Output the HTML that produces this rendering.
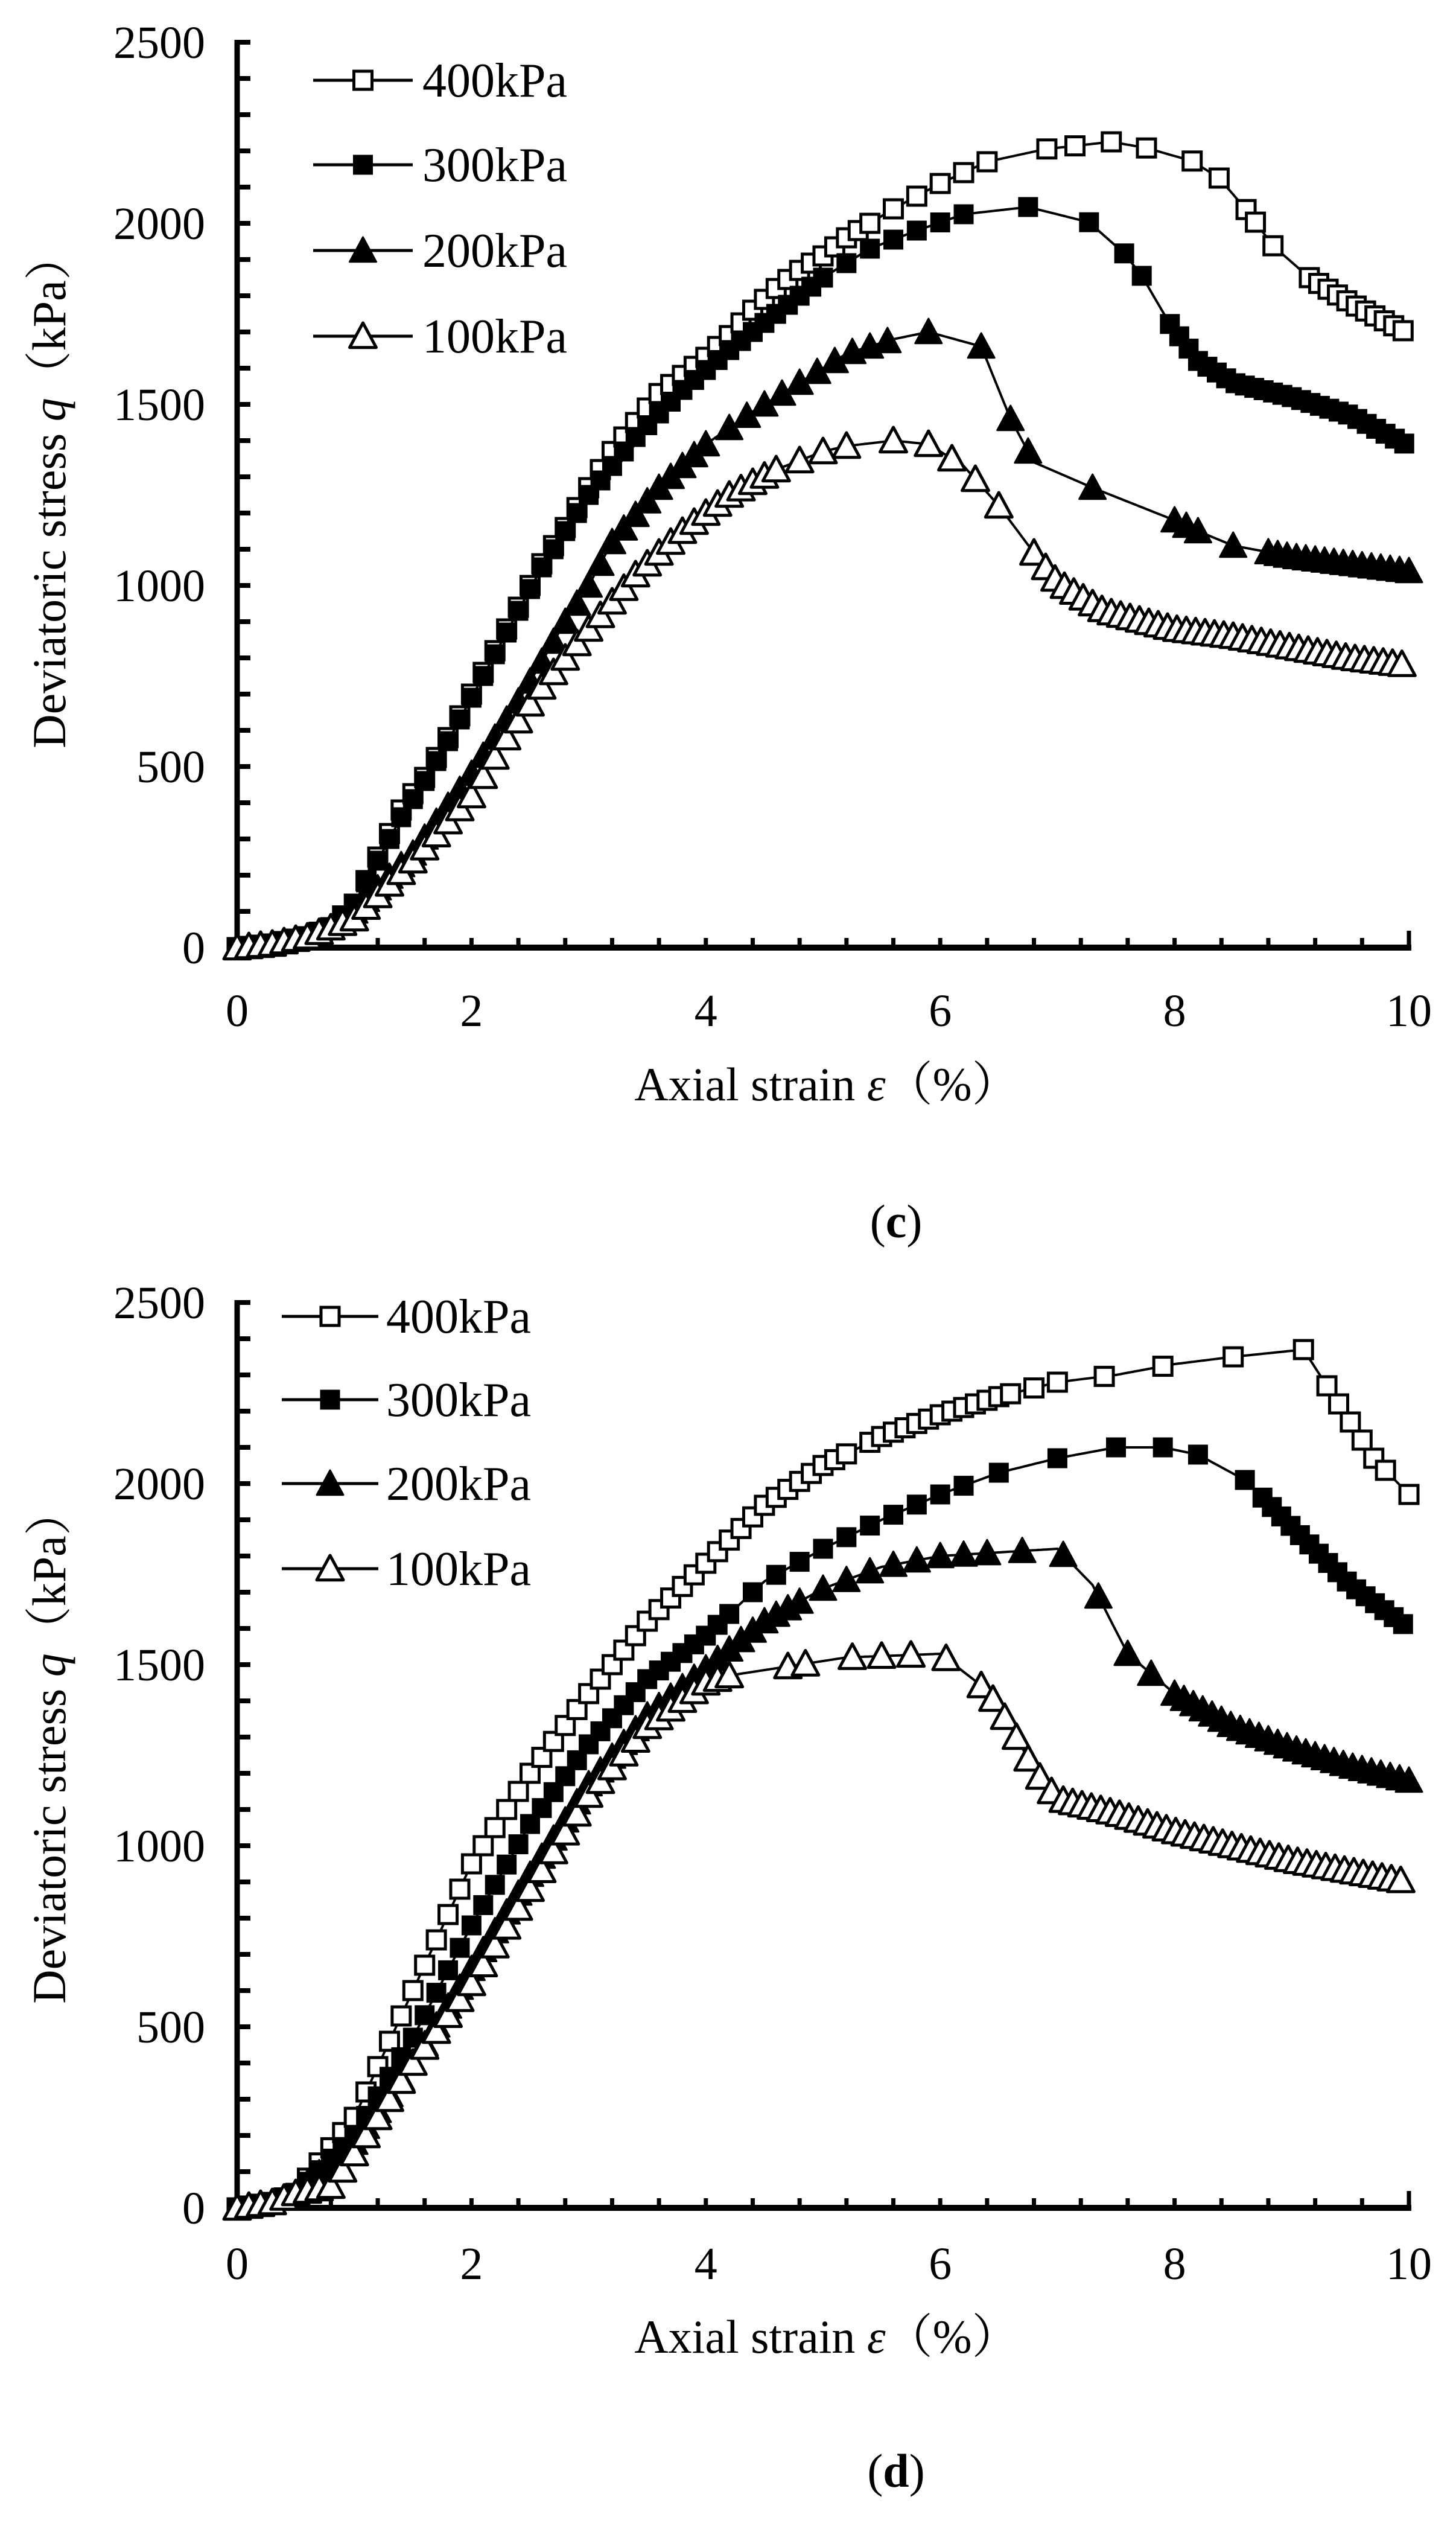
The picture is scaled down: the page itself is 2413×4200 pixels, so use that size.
<!DOCTYPE html>
<html><head><meta charset="utf-8"><style>
html,body{margin:0;padding:0;background:#fff;}
svg{display:block;}
text{font-family:"Liberation Serif","Noto Serif CJK SC",serif;fill:#000;}
</style></head><body>
<svg id="s" xmlns="http://www.w3.org/2000/svg" width="2413" height="4200" viewBox="0 0 2413 4200"></svg>
<script>
const S=document.getElementById('s');
let out='';
const X0=393,X1=2335;
function px(e){return X0+(X1-X0)*e/10;}
function interp(pts,x){
  if(x<=pts[0][0])return pts[0][1];
  for(let i=1;i<pts.length;i++){if(x<=pts[i][0]){const a=pts[i-1],b=pts[i];return a[1]+(b[1]-a[1])*(x-a[0])/(b[0]-a[0]);}}
  return pts[pts.length-1][1];
}
function marker(type,x,y){
  const s=15;
  if(type=='os')return `<rect x="${x-s}" y="${y-s}" width="${2*s}" height="${2*s}" fill="#fff" stroke="#000" stroke-width="5"/>`;
  if(type=='fs')return `<rect x="${x-s}" y="${y-s}" width="${2*s}" height="${2*s}" fill="#000" stroke="#000" stroke-width="3"/>`;
  const t=22;
  const p=`${x},${y-t} ${x+t},${y+t*0.85} ${x-t},${y+t*0.85}`;
  if(type=='ft')return `<polygon points="${p}" fill="#000" stroke="#000" stroke-width="3" stroke-linejoin="round"/>`;
  return `<polygon points="${p}" fill="#fff" stroke="#000" stroke-width="5" stroke-linejoin="round"/>`;
}
function seq(segs){const r=[];for(const [a,b,st] of segs){for(let x=a;x<=b+1e-9;x+=st)r.push(+x.toFixed(3));}return r;}
function chart(Y0,Ytop,curves,legend,labels){
  const k=(Y0-Ytop)/2500;
  const py=q=>Y0-q*k;
  out+=`<line x1="${X0}" y1="${Ytop-4}" x2="${X0}" y2="${Y0+4}" stroke="#000" stroke-width="9"/>`;
  out+=`<line x1="${X0-4}" y1="${Y0}" x2="${X1+4}" y2="${Y0}" stroke="#000" stroke-width="10"/>`;
  for(let q=0;q<=2500;q+=100){out+=`<line x1="${X0}" y1="${py(q)}" x2="${X0+22}" y2="${py(q)}" stroke="#000" stroke-width="8"/>`;}
  for(let e=0;e<=10.001;e+=0.4){out+=`<line x1="${px(e)}" y1="${Y0}" x2="${px(e)}" y2="${Y0-16}" stroke="#000" stroke-width="7"/>`;}
  out+=`<line x1="${X1}" y1="${Y0}" x2="${X1}" y2="${Y0-28}" stroke="#000" stroke-width="7"/>`;
  for(let q=0;q<=2500;q+=500){out+=`<text x="340" y="${py(q)+26}" font-size="76" text-anchor="end">${q}</text>`;}
  for(let e=0;e<=10;e+=2){out+=`<text x="${px(e)}" y="${labels.xt}" font-size="76" text-anchor="middle">${e}</text>`;}
  out+=`<text x="1370" y="${labels.xl}" font-size="78" text-anchor="middle">Axial strain <tspan font-style="italic">ε</tspan>（%）</text>`;
  out+=`<text transform="translate(108,${labels.yc}) rotate(-90)" font-size="78" text-anchor="middle">Deviatoric stress <tspan font-style="italic">q</tspan>（kPa）</text>`;
  out+=`<text x="1485" y="${labels.cap}" font-size="78" text-anchor="middle">(<tspan font-weight="bold">${labels.c}</tspan>)</text>`;
  for(const c of curves){
    let d='';const xs=[];for(let e=0;e<=10.0001;e+=0.02)xs.push(e);
    xs.forEach((e,i)=>{d+=(i?'L':'M')+px(e).toFixed(1)+','+py(interp(c.p,e)).toFixed(1);});
    out+=`<path d="${d}" fill="none" stroke="#000" stroke-width="4"/>`;
    for(const e of c.m){out+=marker(c.t,px(e),py(interp(c.p,e)));}
  }
  legend.items.forEach((it,i)=>{
    const y=legend.ys[i];
    out+=`<line x1="${legend.l1}" y1="${y}" x2="${legend.l2}" y2="${y}" stroke="#000" stroke-width="5"/>`;
    out+=marker(it[0],(legend.l1+legend.l2)/2,y);
    out+=`<text x="${legend.tx}" y="${y+27}" font-size="80">${it[1]}</text>`;
  });
}
const early=[[0,0],[0.3,10],[0.6,30],[0.8,55]];
chart(1570,70,[
 {t:'os',p:early.concat([[1.0,120],[1.2,250],[1.4,380],[1.6,470],[1.8,580],[2.0,700],[2.2,820],[2.4,940],[2.6,1060],[2.8,1160],[3.0,1270],[3.2,1370],[3.4,1450],[3.6,1530],[3.8,1580],[4.0,1630],[4.2,1690],[4.4,1760],[4.6,1820],[4.8,1870],[5.0,1910],[5.2,1960],[5.4,2000],[5.6,2040],[6.0,2110],[6.4,2170],[6.9,2205],[7.46,2225],[7.76,2208],[8.15,2172],[8.38,2125],[8.61,2038],[8.84,1938],[9.15,1850],[9.5,1780],[10,1695]]),
  m:seq([[0,5.4,0.1],[5.6,6.4,0.2]]).concat([6.91,7.15,7.46,7.76,8.15,8.38,8.61,8.69,8.84]).concat(seq([[9.15,10,0.08]]))},
 {t:'fs',p:early.concat([[1.0,120],[1.2,240],[1.4,360],[1.6,460],[1.8,570],[2.0,690],[2.2,810],[2.4,930],[2.6,1050],[2.8,1150],[3.0,1250],[3.4,1410],[3.8,1540],[4.2,1650],[4.6,1750],[5.0,1850],[5.4,1930],[5.8,1980],[6.2,2025],[6.75,2045],[7.27,2003],[7.57,1917],[7.72,1855],[7.96,1722],[8.2,1620],[8.5,1560],[9.0,1520],[9.5,1470],[10,1385]]),
  m:seq([[0,5.0,0.1],[5.2,6.2,0.2]]).concat([6.75,7.27,7.57,7.72]).concat(seq([[7.96,10,0.08]]))},
 {t:'ft',p:early.concat([[1.0,100],[1.5,260],[2.0,480],[2.4,680],[2.8,900],[3.0,1000],[3.2,1120],[3.6,1270],[4.0,1390],[4.4,1480],[4.8,1560],[5.2,1640],[5.6,1680],[5.9,1700],[6.35,1660],[6.6,1460],[6.8,1340],[7.3,1270],[8.0,1180],[8.2,1150],[8.5,1110],[9.0,1080],[9.5,1060],[10,1040]]),
  m:seq([[0,4.0,0.1],[4.2,5.6,0.15]]).concat([5.9,6.35,6.6,6.75,7.3,8.0,8.1,8.2,8.5]).concat(seq([[8.8,10,0.08]]))},
 {t:'ot',p:early.concat([[1.0,80],[1.5,240],[2.0,420],[2.3,580],[2.6,720],[3.0,880],[3.4,1030],[3.8,1150],[4.2,1250],[4.6,1320],[5.0,1370],[5.2,1385],[5.6,1400],[5.9,1390],[6.2,1330],[6.5,1220],[6.8,1090],[7.0,1010],[7.4,930],[8.0,880],[8.5,860],[9.0,830],[9.5,800],[10,780]]),
  m:seq([[0,4.6,0.1],[4.8,5.2,0.2]]).concat([5.6,5.9,6.1,6.3,6.5,6.8]).concat(seq([[6.9,10,0.08]]))}
],{items:[['os','400kPa'],['fs','300kPa'],['ft','200kPa'],['ot','100kPa']],ys:[133,273,415,557],l1:519,l2:684,tx:700},
{xt:1700,xl:1823,yc:813,cap:2050,c:'c'});
const early2=[[0,0],[0.3,15],[0.5,40]];
chart(3658,2158,[
 {t:'os',p:early2.concat([[1.0,250],[1.5,600],[2.0,950],[2.5,1200],[3.0,1420],[3.5,1620],[4.0,1780],[4.5,1940],[5.0,2050],[5.5,2130],[6.0,2190],[6.5,2240],[7.0,2280],[7.5,2300],[8.0,2330],[8.5,2350],[9.1,2370],[9.3,2270],[9.5,2170],[9.7,2070],[10,1970]]),
  m:seq([[0,5.2,0.1],[5.4,6.6,0.1]]).concat([6.8,7.0,7.4,7.9,8.5,9.1,9.3,9.4,9.5,9.6,9.7,9.8,10])},
 {t:'fs',p:early2.concat([[1.0,200],[1.5,470],[2.0,780],[2.5,1060],[3.0,1280],[3.5,1460],[4.0,1580],[4.5,1730],[5.0,1820],[5.5,1900],[6.0,1970],[6.5,2030],[7.0,2070],[7.5,2100],[7.9,2100],[8.2,2080],[8.6,2010],[9.0,1880],[9.5,1720],[10,1600]]),
  m:seq([[0,4.2,0.1],[4.4,6.2,0.2]]).concat([6.5,7.0,7.5,7.9,8.2,8.6]).concat(seq([[8.75,10,0.08]]))},
 {t:'ft',p:early2.concat([[1.0,180],[1.5,400],[2.0,660],[2.5,920],[3.0,1170],[3.5,1360],[4.0,1490],[4.5,1620],[5.0,1710],[5.5,1770],[6.0,1800],[6.5,1810],[7.0,1820],[7.3,1720],[7.6,1530],[8.0,1420],[8.5,1330],[9.0,1270],[9.5,1220],[10,1180]]),
  m:seq([[0,4.8,0.1],[5.0,6.4,0.2]]).concat([6.7,7.05,7.35,7.6,7.8]).concat(seq([[8.0,10,0.08]]))},
 {t:'ot',p:early2.concat([[0.8,60],[1.0,150],[1.5,400],[2.0,620],[2.5,880],[3.0,1140],[3.5,1330],[4.0,1450],[4.2,1470],[4.8,1500],[5.2,1520],[5.6,1525],[6.0,1530],[6.4,1430],[6.6,1330],[6.8,1210],[7.0,1130],[7.5,1090],[8.0,1040],[9.0,960],[10,900]]),
  m:seq([[0,4.2,0.1]]).concat([4.7,4.85,5.25,5.5,5.75,6.05,6.35,6.45,6.55,6.65,6.75,6.85,6.95]).concat(seq([[7.05,10,0.08]]))}
],{items:[['os','400kPa'],['fs','300kPa'],['ft','200kPa'],['ot','100kPa']],ys:[2181,2319,2458,2599],l1:467,l2:627,tx:640},
{xt:3776,xl:3898,yc:2893,cap:4120,c:'d'});
S.innerHTML=out;
</script>
</body></html>
